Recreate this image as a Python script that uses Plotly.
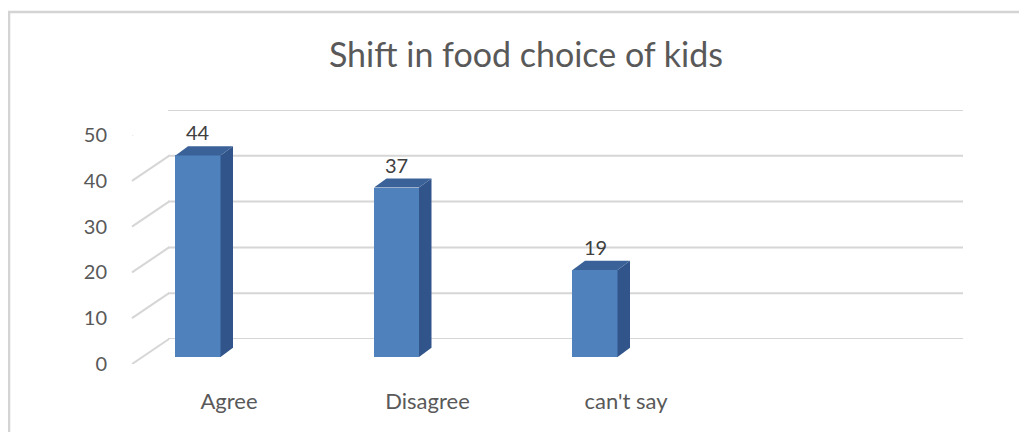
import plotly.graph_objects as go

categories = ["Agree", "Disagree", "can't say"]
values = [44, 37, 19]
y_ticks = [0, 10, 20, 30, 40, 50]
title_text = "Shift in food choice of kids"

W, H = 1027, 432
OX, OY = 8, 8  # page (body) offset of the figure in the browser
FRONT = "#4f81bd"
SIDE = "#31548a"
TOP = "#3a6298"
GRID = "#d6d6d6"
FONT = "Lato, Open Sans, sans-serif"


def fx(px):
    return (px - OX) / W


def fy(py):
    return (H - (py - OY)) / H


fig = go.Figure()

fig.add_trace(go.Bar(x=categories, y=values, width=0.227, marker=dict(color=FRONT, line=dict(width=0)),
                     xaxis="x", yaxis="y", hoverinfo="x+y", showlegend=False))
fig.add_trace(go.Scatter(x=[None], y=[None], xaxis="x", yaxis="y2", showlegend=False, hoverinfo="skip"))
fig.add_trace(go.Scatter(x=[None], y=[None], xaxis="x", yaxis="y3", showlegend=False, hoverinfo="skip"))

shapes = []
DY = 2.0  # bar depth, in value units
HALF, DX = 22.5, 12.5
for i, v in enumerate(values):
    shapes.append(dict(type="path", xref="x", yref="y", xsizemode="pixel", xanchor=i,
                       path=f"M {HALF},0 L {HALF+DX},{DY} L {HALF+DX},{v+DY} L {HALF},{v} Z",
                       fillcolor=SIDE, line=dict(width=0), layer="above"))
    shapes.append(dict(type="path", xref="x", yref="y", xsizemode="pixel", xanchor=i,
                       path=f"M {-HALF},{v} L {-HALF+DX},{v+DY} L {HALF+DX},{v+DY} L {HALF},{v} Z",
                       fillcolor=TOP, line=dict(width=0), layer="above"))

for t in y_ticks:
    # back wall gridline
    shapes.append(dict(type="line", xref="paper", yref="y3", x0=fx(168), x1=fx(963), y0=t, y1=t,
                       line=dict(color=GRID, width=2), layer="below"))
    # side wall diagonal
    shapes.append(dict(type="line", xref="paper", yref="y2", xsizemode="pixel", ysizemode="pixel",
                       xanchor=fx(132), yanchor=t, x0=0, x1=37, y0=0, y1=25,
                       line=dict(color=GRID, width=2), layer="below"))

shapes.append(dict(type="rect", xref="paper", yref="paper", x0=0.001, x1=1.02, y0=-0.05, y1=fy(12),
                   line=dict(color="#d4d4d4", width=2.5), fillcolor="rgba(0,0,0,0)", layer="below"))

annotations = []
for c, v in zip(categories, values):
    annotations.append(dict(x=c, y=v, xref="x", yref="y", text=str(v), showarrow=False,
                            yanchor="middle", yshift=23,
                            font=dict(family=FONT, size=20, color="#404040")))

x0_unit = 198.0          # screen px of first category
unit = 198.5             # screen px per category
r0 = -(x0_unit - OX) / unit
r1 = r0 + W / unit

fig.update_layout(
    width=W, height=H,
    margin=dict(l=0, r=0, t=0, b=0, autoexpand=False),
    paper_bgcolor="white", plot_bgcolor="rgba(0,0,0,0)",
    title=dict(text=title_text, x=fx(526), xanchor="center", y=fy(55), yanchor="middle", yref="container",
               font=dict(family=FONT, size=34, color="#595959")),
    xaxis=dict(domain=[0, 1], range=[r0, r1], anchor="y", showgrid=False, zeroline=False, automargin=False,
               showline=False, ticks="", tickfont=dict(family=FONT, size=22, color="#595959"),
               ticklabelshift=31, ticklabelstandoff=29),
    yaxis=dict(domain=[fy(357), fy(128)], range=[0, 50], visible=False, showgrid=False, zeroline=False,
               automargin=False),
    yaxis2=dict(domain=[fy(364), fy(135)], range=[0, 50], anchor="free", position=fx(107), showgrid=False,
                zeroline=False, showline=False, ticks="", tickvals=y_ticks, automargin=False,
                tickfont=dict(family=FONT, size=20, color="#595959")),
    yaxis3=dict(domain=[fy(339), fy(110)], range=[0, 50], anchor="x", visible=False, showgrid=False,
                zeroline=False, automargin=False),
    shapes=shapes,
    annotations=annotations,
    bargap=0,
)

fig.write_html("out.html")
